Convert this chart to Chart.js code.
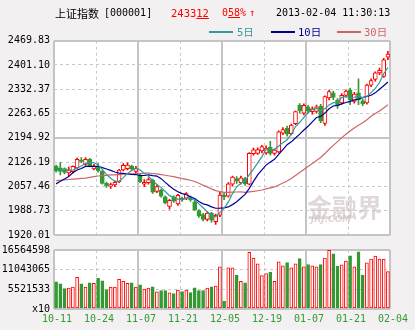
<!DOCTYPE html>
<html>
<head>
<meta charset="utf-8">
<script src="https://cdn.jsdelivr.net/npm/chart.js@4.4.1/dist/chart.umd.min.js"></script>
<style>
  html, body { margin: 0; padding: 0; background: #f2f0f0; }
  #wrap { position: relative; width: 415px; height: 330px; overflow: hidden; }
  canvas { position: absolute; left: 0; }
  .t { position: absolute; white-space: nowrap; line-height: 1; font-family: "DejaVu Sans Mono", "Noto Sans CJK SC", monospace; font-size: 10px; color: #000; }
  .cn { font-family: "Noto Sans CJK SC", sans-serif; font-size: 11px; }
  .red { color: #ff0000; }
  .ln { position: absolute; height: 2px; width: 24px; }
  .wm { position: absolute; white-space: nowrap; line-height: 1; pointer-events: none; }
</style>
</head>
<body>
<div id="wrap">
  <canvas id="priceChart" width="415" height="245" style="top:0"></canvas>
  <canvas id="volChart" width="415" height="90" style="top:240px"></canvas>

  <span class="t cn" style="left:55px;top:8px">上证指数</span>
  <span class="t" style="left:104px;top:8px">[000001]</span>
  <span class="t red" style="left:171px;top:8px;font-size:10.5px">2433<u>12</u></span>
  <span class="t red" style="left:222px;top:8px">0<u>58</u>%</span>
  <span class="t red" style="left:249px;top:8px">↑</span>
  <span class="t" style="left:276px;top:8px">2013-02-04 11:30:13</span>

  <div class="ln" style="left:209px;top:31px;background:#339999"></div>
  <span class="t" style="left:237px;top:27px;font-size:10.5px;color:#339999">5日</span>
  <div class="ln" style="left:271px;top:31px;background:#000099"></div>
  <span class="t" style="left:298px;top:27px;font-size:10.5px;color:#000099">10日</span>
  <div class="ln" style="left:337px;top:31px;background:#cc6666"></div>
  <span class="t" style="left:364px;top:27px;font-size:10.5px;color:#cc6666">30日</span>

  <span class="wm" style="left:307px;top:188px;font:bold 25px 'Noto Sans CJK SC';color:rgba(205,192,192,0.6)">金融界</span>
  <span class="wm" style="left:311px;top:214px;font:italic bold 9px 'DejaVu Sans';color:rgba(205,192,192,0.65)">JRJ.COM</span>
</div>

<script>
// trading days shown (80 candles)
const days = [
  "10-11", "10-12", "10-15", "10-16", "10-17", "10-18", "10-19", "10-22", "10-23", "10-24",
  "10-25", "10-26", "10-29", "10-30", "10-31", "11-01", "11-02", "11-05", "11-06", "11-07",
  "11-08", "11-09", "11-12", "11-13", "11-14", "11-15", "11-16", "11-19", "11-20", "11-21",
  "11-22", "11-23", "11-26", "11-27", "11-28", "11-29", "11-30", "12-03", "12-04", "12-05",
  "12-06", "12-07", "12-10", "12-11", "12-12", "12-13", "12-14", "12-17", "12-18", "12-19",
  "12-20", "12-21", "12-24", "12-25", "12-26", "12-27", "12-28", "12-31", "01-04", "01-07",
  "01-08", "01-09", "01-10", "01-11", "01-14", "01-15", "01-16", "01-17", "01-18", "01-21",
  "01-22", "01-23", "01-24", "01-25", "01-28", "01-29", "01-30", "01-31", "02-01", "02-04"
];

const opens = [
  2115, 2110, 2108, 2096, 2099, 2110, 2132, 2120, 2134, 2107,
  2114, 2100, 2066, 2058, 2062, 2070, 2104, 2108, 2115, 2100,
  2090, 2064, 2068, 2075, 2043, 2047, 2028, 2001, 2028, 2008,
  2024, 2024, 2026, 2014, 1989, 1978, 1964, 1981, 1958, 1976,
  2033, 2030, 2064, 2080, 2068, 2080, 2064, 2150, 2151, 2158,
  2152, 2168, 2151, 2155, 2208, 2222, 2207, 2235, 2287, 2265,
  2283, 2269, 2270, 2284, 2236, 2308, 2322, 2302, 2294, 2315,
  2331, 2298, 2322, 2300, 2294, 2344, 2360, 2379, 2369, 2423
];
const highs = [
  2118, 2126, 2110, 2112, 2116, 2138, 2139, 2139, 2137, 2120,
  2122, 2102, 2070, 2067, 2073, 2106, 2122, 2124, 2118, 2114,
  2092, 2077, 2082, 2078, 2062, 2050, 2031, 2021, 2031, 2035,
  2027, 2040, 2030, 2018, 1992, 1981, 1986, 1984, 1979, 2043,
  2038, 2068, 2087, 2085, 2087, 2083, 2153, 2166, 2167, 2174,
  2172, 2185, 2164, 2215, 2224, 2228, 2234, 2271, 2292, 2291,
  2287, 2283, 2288, 2290, 2314, 2330, 2327, 2306, 2320, 2331,
  2336, 2324, 2362, 2305, 2347, 2362, 2382, 2392, 2420, 2440
];
const lows = [
  2098, 2090, 2093, 2088, 2096, 2108, 2125, 2117, 2113, 2104,
  2098, 2064, 2055, 2052, 2057, 2068, 2101, 2104, 2102, 2094,
  2068, 2057, 2064, 2038, 2040, 2027, 2008, 1993, 2012, 2004,
  2015, 2020, 2015, 1989, 1970, 1960, 1960, 1956, 1950, 1972,
  2020, 2027, 2058, 2066, 2064, 2060, 2062, 2146, 2148, 2152,
  2148, 2146, 2146, 2152, 2204, 2200, 2203, 2232, 2265, 2260,
  2265, 2262, 2265, 2238, 2230, 2302, 2303, 2278, 2290, 2310,
  2289, 2293, 2289, 2286, 2290, 2340, 2355, 2374, 2366, 2416
];
const closes = [
  2101, 2100, 2097, 2104, 2114, 2134, 2128, 2134, 2115, 2114,
  2101, 2066, 2059, 2063, 2069, 2104, 2117, 2118, 2106, 2108,
  2071, 2069, 2077, 2041, 2057, 2030, 2011, 2018, 2016, 2032,
  2019, 2037, 2019, 1992, 1974, 1964, 1982, 1962, 1976, 2033,
  2028, 2065, 2084, 2072, 2082, 2065, 2151, 2161, 2162, 2170,
  2166, 2151, 2160, 2212, 2218, 2205, 2231, 2269, 2272, 2287,
  2272, 2277, 2283, 2243, 2312, 2326, 2309, 2285, 2315, 2327,
  2303, 2319, 2303, 2291, 2344, 2357, 2379, 2386, 2416, 2432
];

const ma5 = [
  2102, 2104, 2105, 2104, 2103.2, 2109.8, 2115.4, 2122.8, 2125.0, 2125.0,
  2118.4, 2106.0, 2091.0, 2080.6, 2071.6, 2072.2, 2082.4, 2094.2, 2102.8, 2110.6,
  2104.0, 2094.4, 2086.2, 2073.2, 2063.0, 2054.8, 2043.2, 2031.4, 2026.4, 2021.4,
  2019.2, 2024.4, 2024.6, 2019.8, 2008.2, 1997.2, 1986.2, 1974.8, 1971.6, 1983.4,
  1996.2, 2012.8, 2037.2, 2056.4, 2066.2, 2073.6, 2090.8, 2106.2, 2124.2, 2141.8,
  2162.0, 2162.0, 2161.8, 2171.8, 2181.4, 2189.2, 2205.2, 2227.0, 2239.0, 2252.8,
  2266.2, 2275.4, 2278.2, 2272.4, 2277.4, 2288.2, 2294.6, 2295.0, 2309.4, 2312.4,
  2307.8, 2309.8, 2313.4, 2308.6, 2312.0, 2322.8, 2334.8, 2351.4, 2376.4, 2394.0
];
const ma10 = [
  2064.7, 2072.0, 2078.4, 2085.3, 2096.3, 2104.1, 2108.3, 2114.3, 2114.2, 2114.1,
  2114.1, 2110.7, 2106.9, 2102.8, 2098.3, 2095.3, 2094.2, 2092.6, 2091.7, 2091.1,
  2088.1, 2088.4, 2090.2, 2088.0, 2086.8, 2079.4, 2068.8, 2058.8, 2049.8, 2042.2,
  2037.0, 2033.8, 2028.0, 2023.1, 2014.8, 2008.2, 2005.3, 1999.7, 1995.7, 1995.8,
  1996.7, 1999.5, 2006.0, 2014.0, 2024.8, 2034.9, 2051.8, 2071.7, 2090.3, 2104.0,
  2117.8, 2126.4, 2134.0, 2148.0, 2161.6, 2175.6, 2183.6, 2194.4, 2205.4, 2217.1,
  2227.7, 2240.3, 2252.6, 2255.7, 2265.1, 2277.2, 2285.0, 2286.6, 2290.9, 2294.9,
  2298.0, 2302.2, 2304.2, 2309.0, 2312.2, 2315.3, 2322.3, 2332.4, 2342.5, 2353.0
];
const ma30 = [
  2074, 2075, 2076, 2077, 2078, 2079, 2080, 2081, 2083, 2085,
  2087, 2088, 2089, 2090, 2090, 2091, 2092, 2093, 2093, 2094,
  2094, 2095, 2095, 2094, 2093, 2091, 2089, 2087, 2085, 2082.5,
  2079.7, 2077.6, 2075.0, 2071.3, 2066.6, 2061.0, 2056.1, 2050.4, 2045.7, 2043.0,
  2040.6, 2040.6, 2041.4, 2041.7, 2042.1, 2040.8, 2042.0, 2043.4, 2045.3, 2047.3,
  2050.5, 2053.2, 2056.0, 2061.7, 2067.1, 2072.9, 2080.2, 2088.6, 2097.1, 2105.6,
  2114.1, 2122.1, 2130.9, 2139.2, 2150.5, 2162.6, 2173.5, 2184.2, 2195.5, 2205.3,
  2214.5, 2223.0, 2230.3, 2237.6, 2246.3, 2256.0, 2263.6, 2271.1, 2279.6, 2288.3
];

// volume in units of 10 (axis shows "x10")
const volumes = [
  7603000, 7060000, 5703000, 5884000, 6155000, 8871000, 7060000, 6155000, 7332000, 7241000,
  8690000, 7875000, 5431000, 6155000, 6155000, 8328000, 7784000, 7241000, 7332000, 6155000,
  6789000, 5612000, 5884000, 6246000, 4797000, 5159000, 5159000, 4526000, 4345000, 5341000,
  4888000, 5341000, 4616000, 5974000, 5159000, 5159000, 5884000, 6246000, 6427000, 11858000,
  2172000, 11586000, 11586000, 9504000, 7784000, 7332000, 15931000, 14302000, 12672000, 9414000,
  9957000, 10319000, 7784000, 13215000, 12129000, 13034000, 11586000, 12672000, 14121000, 11858000,
  12491000, 12129000, 11858000, 12491000, 14302000, 16474000, 15478000, 11948000, 12401000, 13487000,
  14935000, 11858000, 16022000, 9504000, 12944000, 14030000, 14845000, 14030000, 14030000, 10500000
];

const tickLabels = ["10-11", "10-24", "11-07", "11-21", "12-05", "12-19", "01-07", "01-21", "02-04"];
const priceTicks = [1920.01, 1988.73, 2057.46, 2126.19, 2194.92, 2263.65, 2332.37, 2401.10, 2469.83];
const volTicks = [0, 5521533, 11043065, 16564598];

const RED = "#ff0000";
const GREEN = "#339933";
const AXIS_FONT = { family: "DejaVu Sans Mono", size: 10 };

function isUp(i) {
  return closes[i] >= opens[i];
}

function points(values) {
  return values.map((v, i) => ({ x: i + 0.5, y: v }));
}

const areaFill = {
  id: "areaFill",
  beforeDraw(chart) {
    const { ctx, chartArea: a } = chart;
    ctx.save();
    ctx.fillStyle = "#ffffff";
    ctx.fillRect(a.left, a.top, a.right - a.left, a.bottom - a.top);
    ctx.restore();
  }
};

function gridFor(isSolid) {
  return {
    grid: {
      color: (c) => (isSolid(c.index) ? "#c4c4c4" : "#c8c8c8"),
      lineWidth: (c) => (isSolid(c.index) ? 2 : 1),
      drawTicks: false,
      offset: false
    },
    border: {
      display: false,
      dash: (c) => (isSolid(c.index) ? [] : [3, 3])
    }
  };
}

function xScale(showLabels) {
  return {
    type: "linear",
    min: 0,
    max: 80,
    offset: false,
    afterBuildTicks: (s) => {
      s.ticks = tickLabels.map((t, k) => ({ value: k * 10 }));
    },
    afterFit: (s) => {
      s.height = showLabels ? 16 : 0;
    },
    ticks: {
      display: showLabels,
      autoSkip: false,
      maxRotation: 0,
      padding: 4,
      labelOffset: 3,
      color: GREEN,
      font: AXIS_FONT,
      callback: (v, i) => tickLabels[i]
    },
    ...gridFor((i) => i % 2 === 0)
  };
}

const baseOptions = {
  animation: false,
  responsive: false,
  events: [],
  plugins: { legend: { display: false }, tooltip: { enabled: false } }
};

function maLine(values, color) {
  return { type: "line", data: points(values), borderColor: color, borderWidth: 1.2, pointRadius: 0, tension: 0, order: 0 };
}

new Chart(document.getElementById("priceChart"), {
  type: "bar",
  data: {
    datasets: [
      maLine(ma5, "#339999"),
      maLine(ma10, "#000099"),
      maLine(ma30, "#cc6666"),
      {
        data: days.map((d, i) => ({ x: i + 0.5, y: [opens[i], closes[i]] })),
        barThickness: 4,
        borderWidth: 1,
        borderSkipped: false,
        grouped: false,
        backgroundColor: (c) => (isUp(c.dataIndex) ? "#ffffff" : GREEN),
        borderColor: (c) => (isUp(c.dataIndex) ? RED : GREEN),
        order: 1
      },
      {
        data: days.map((d, i) => ({ x: i + 0.5, y: [lows[i], highs[i]] })),
        barThickness: 1,
        borderWidth: 0,
        grouped: false,
        backgroundColor: (c) => (isUp(c.dataIndex) ? RED : GREEN),
        order: 2
      }
    ]
  },
  options: {
    ...baseOptions,
    layout: { padding: { left: 0, right: 25, top: 40.7, bottom: 10 } },
    scales: {
      x: xScale(false),
      y: {
        min: 1920.01,
        max: 2469.83,
        afterBuildTicks: (s) => {
          s.ticks = priceTicks.map((v) => ({ value: v }));
        },
        afterFit: (s) => {
          s.width = 54;
        },
        ticks: {
          autoSkip: false,
          padding: 4,
          color: "#000",
          font: AXIS_FONT,
          callback: (v) => Number(v).toFixed(2)
        },
        ...gridFor((i) => i === 0 || i === 4 || i === 8)
      }
    }
  },
  plugins: [areaFill]
});

new Chart(document.getElementById("volChart"), {
  type: "bar",
  data: {
    datasets: [
      {
        data: points(volumes),
        barThickness: 3,
        borderWidth: 1,
        borderSkipped: false,
        grouped: false,
        backgroundColor: (c) => (isUp(c.dataIndex) ? "#ffffff" : GREEN),
        borderColor: (c) => (isUp(c.dataIndex) ? RED : GREEN)
      }
    ]
  },
  options: {
    ...baseOptions,
    layout: { padding: { left: 0, right: 25, top: 8.3, bottom: 5 } },
    scales: {
      x: xScale(true),
      y: {
        min: 0,
        max: 16564598,
        afterBuildTicks: (s) => {
          s.ticks = volTicks.map((v) => ({ value: v }));
        },
        afterFit: (s) => {
          s.width = 54;
        },
        ticks: {
          autoSkip: false,
          padding: 4,
          color: "#000",
          font: AXIS_FONT,
          callback: (v) => (v === 0 ? "x10" : String(v))
        },
        ...gridFor((i) => i === 0 || i === 3)
      }
    }
  },
  plugins: [areaFill]
});
</script>
</body>
</html>
